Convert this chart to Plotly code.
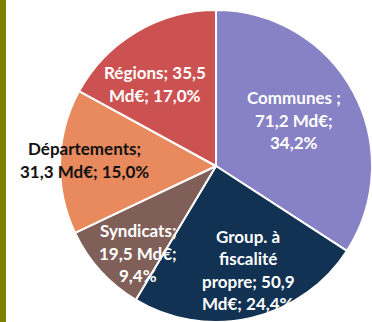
import plotly.graph_objects as go

categories = ["Communes", "Group. à fiscalité propre", "Syndicats", "Départements", "Régions"]
values = [71.2, 50.9, 19.5, 31.3, 35.5]
pcts = [34.2, 24.4, 9.4, 15.0, 17.0]
colors = ["#8781C5", "#123253", "#7F5F58", "#E8895E", "#CC5251"]
label_lines = [
    ["Communes ;", "71,2 Md€;", "34,2%"],
    ["Group. à", "fiscalité", "propre; 50,9", "Md€; 24,4%"],
    ["Syndicats;", "19,5 Md€;", "9,4%"],
    ["Départements;", "31,3 Md€; 15,0%"],
    ["Régions; 35,5", "Md€; 17,0%"],
]
label_colors = ["white", "white", "white", "#111111", "white"]
# label centres in pixels (x, y from top)
label_pos = [(294, 120), (248, 270), (138, 253), (84, 160), (155, 84)]

W, H = 372, 322
fig = go.Figure(go.Pie(
    labels=categories, values=values, sort=False, direction="clockwise", rotation=0,
    marker=dict(colors=colors, line=dict(color="white", width=2)),
    textinfo="none", hoverinfo="label+value+percent", showlegend=False,
    domain=dict(x=[60 / W, 1], y=[0, 312 / H]),
))

LH = 22.5
anns = []
for lines, col, (cx, cy) in zip(label_lines, label_colors, label_pos):
    n = len(lines)
    for i, t in enumerate(lines):
        py = cy + (i - (n - 1) / 2) * LH
        anns.append(dict(x=cx / W, y=1 - py / H, xref="paper", yref="paper", text=t,
                         showarrow=False, xanchor="center", yanchor="middle",
                         font=dict(family="Lato", size=17, color=col, weight="bold")))

fig.update_layout(
    width=W, height=H, margin=dict(l=0, r=0, t=0, b=0),
    paper_bgcolor="white", plot_bgcolor="white",
    annotations=anns,
    shapes=[dict(type="rect", xref="paper", yref="paper", x0=0, x1=6 / W, y0=0, y1=1,
                 fillcolor="#808000", line=dict(width=0), layer="above")],
)
fig.write_html("out.html")
